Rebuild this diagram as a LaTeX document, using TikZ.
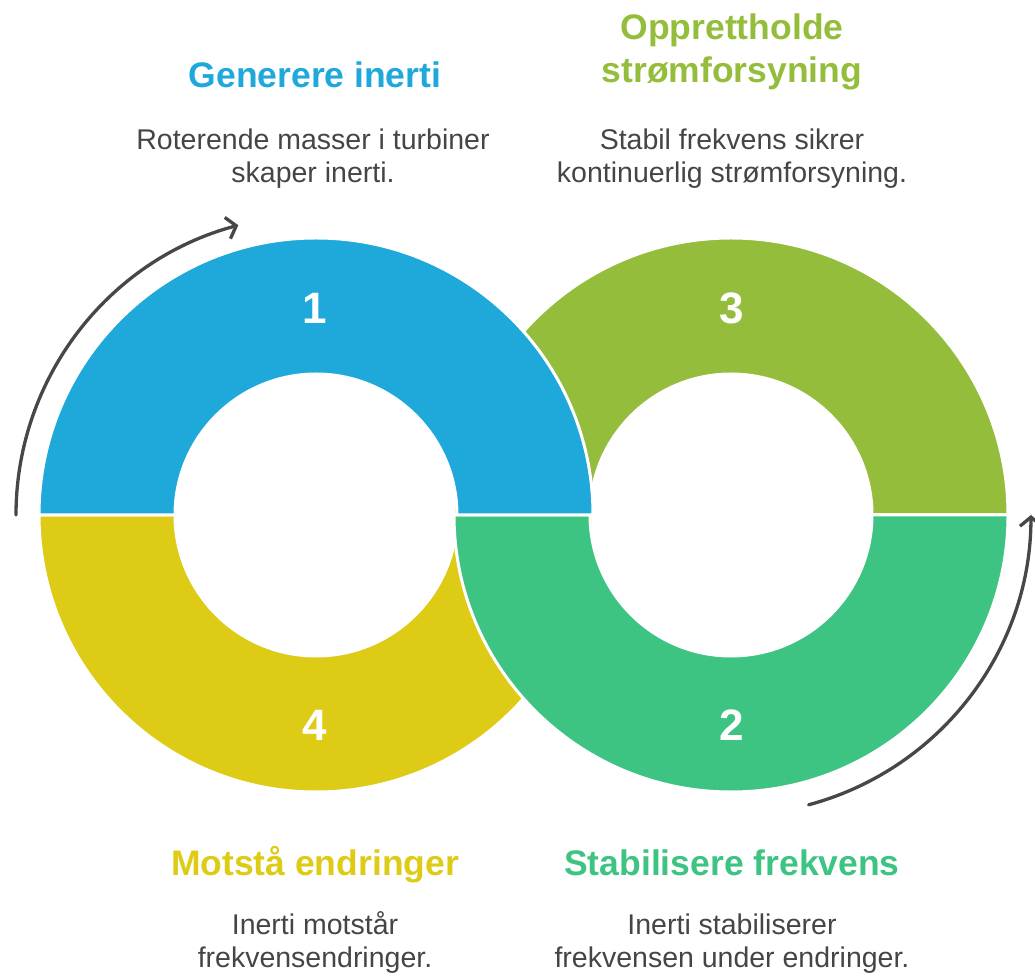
\documentclass[tikz,border=0pt]{standalone}
\usepackage{fontspec}
\setmainfont{Liberation Sans}
\usetikzlibrary{arrows.meta}
\definecolor{cblue}{HTML}{1FA9DA}
\definecolor{cgreen}{HTML}{93BD3A}
\definecolor{cteal}{HTML}{3DC482}
\definecolor{cyellow}{HTML}{DECB15}
\definecolor{ctext}{HTML}{454545}
\definecolor{carrow}{HTML}{474747}
\begin{document}
\begin{tikzpicture}[x=1pt,y=1pt,
  seg/.style={draw=white, line width=3pt, line join=miter},
  ttl/.style={font=\fontsize{35.5}{43}\selectfont\bfseries, align=center, anchor=base},
  body/.style={font=\fontsize{28.5}{33}\selectfont, text=ctext, align=center, anchor=base},
  num/.style={font=\fontsize{44}{44}\selectfont\bfseries, text=white},
  cyc/.style={draw=carrow, line width=3.3pt, line cap=round, -{Straight Barb[length=9pt,width=22pt,line width=3.3pt]}}
]
\useasboundingbox (0,0) rectangle (1035,975);
\coordinate (L) at (316,460);
\coordinate (R) at (731,460);
% segment 3 (green, top right)
\path[fill=cgreen, seg] (454,460) arc[start angle=180,end angle=0,radius=277] -- (872,460) arc[start angle=0,end angle=180,radius=141] -- cycle;
% segment 4 (yellow, bottom left)
\path[fill=cyellow, seg] (39,460) arc[start angle=180,end angle=360,radius=277] -- (457,460) arc[start angle=360,end angle=180,radius=141] -- cycle;
% segment 2 (teal, bottom right)
\path[fill=cteal, seg] (454,460) arc[start angle=180,end angle=360,radius=277] -- (872,460) arc[start angle=360,end angle=180,radius=141] -- cycle;
% segment 1 (blue, top left)
\path[fill=cblue, seg] (39,460) arc[start angle=180,end angle=0,radius=277] -- (457,460) arc[start angle=0,end angle=180,radius=141] -- cycle;
% numbers
\node[num] (n1) at (315,667) {1};
\node[num] (n3) at (732,667) {3};
\node[num] (n4) at (315,250) {4};
\node[num] (n2) at (732,250) {2};
% cycle arrows
\coordinate (a1s) at (16,460);
\draw[cyc] (a1s) arc[start angle=180,end angle=105,radius=300];
\coordinate (a2s) at (808.6,170.2);
\draw[cyc] (a2s) arc[start angle=-75,end angle=0,radius=300];
% titles (anchor base = last line baseline)
\node[ttl, text=cblue] (t1) at (315,887) {Generere inerti};
\node[ttl, text=cgreen] (t3) at (732,892) {Opprettholde\\strømforsyning};
\node[ttl, text=cyellow] (t4) at (315,100) {Motstå endringer};
\node[ttl, text=cteal] (t2) at (732,100) {Stabilisere frekvens};
% descriptions
\node[body] (d1) at (313,792) {Roterende masser i turbiner\\skaper inerti.};
\node[body] (d3) at (732,792) {Stabil frekvens sikrer\\kontinuerlig strømforsyning.};
\node[body] (d4) at (315,8) {Inerti motstår\\frekvensendringer.};
\node[body] (d2) at (732,8) {Inerti stabiliserer\\frekvensen under endringer.};
\end{tikzpicture}
\end{document}
